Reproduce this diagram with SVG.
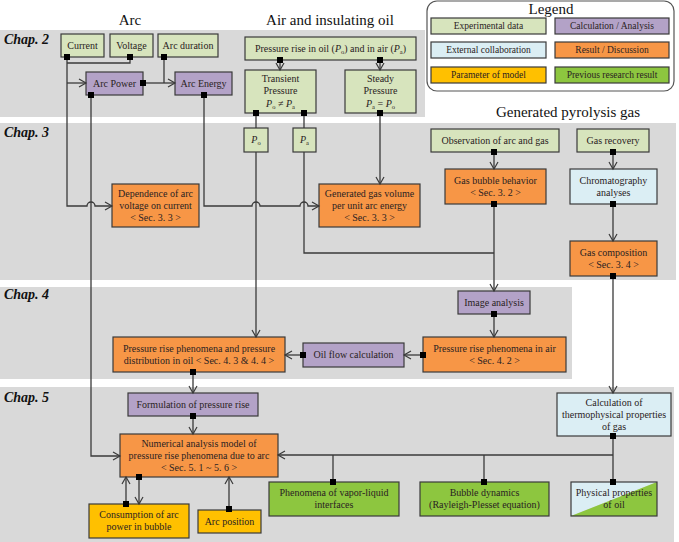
<svg xmlns="http://www.w3.org/2000/svg" width="679" height="542" viewBox="0 0 679 542" font-family="'Liberation Serif', 'DejaVu Serif', serif">
<style>
.band{fill:#d9d9d9}
.n{stroke:#3a3a3a;stroke-width:1.2}
.exp{fill:#d7e4bd}
.calc{fill:#b3a2c7}
.ext{fill:#dbeef4}
.res{fill:#f79646}
.par{fill:#ffc000}
.prev{fill:#8dc63f}
text{font-size:10px;fill:#2a2222;text-anchor:middle}
.hd{font-size:15px;fill:#111}
.ch{font-size:14px;font-weight:bold;font-style:italic;text-anchor:start;fill:#111}
.lg{font-size:9.5px}
.i{font-style:italic}
.c{fill:none;stroke:#3a3a3a;stroke-width:1.3}
</style>
<defs>
<marker id="arr" markerUnits="userSpaceOnUse" markerWidth="10" markerHeight="10" refX="8" refY="4" orient="auto" overflow="visible"><path d="M1,0 L8,4 L1,8" fill="none" stroke="#3a3a3a" stroke-width="1.2"/></marker>
<marker id="dot" markerUnits="userSpaceOnUse" markerWidth="6" markerHeight="6" refX="3" refY="3" overflow="visible"><rect width="6" height="6" fill="#000"/></marker>
</defs>

<rect class="band" x="0" y="30" width="425" height="87"/>
<rect class="band" x="0" y="123" width="676" height="157"/>
<rect class="band" x="0" y="287" width="572" height="92"/>
<rect class="band" x="0" y="387" width="674" height="155"/>

<text class="ch" x="4" y="44">Chap. 2</text>
<text class="ch" x="4" y="137">Chap. 3</text>
<text class="ch" x="4" y="299">Chap. 4</text>
<text class="ch" x="4" y="402">Chap. 5</text>

<text class="hd" x="130" y="25">Arc</text>
<text class="hd" x="330" y="25">Air and insulating oil</text>
<text class="hd" x="568" y="117">Generated pyrolysis gas</text>

<g id="legend">
<rect x="427" y="1" width="247" height="90" rx="10" fill="#fff" stroke="#555" stroke-width="1.2"/>
<text class="hd" x="551" y="14">Legend</text>
<rect class="n exp" x="431" y="18" width="115" height="16"/><text class="lg" x="488.5" y="29">Experimental data</text>
<rect class="n calc" x="555" y="18" width="114" height="16"/><text class="lg" x="612" y="29">Calculation / Analysis</text>
<rect class="n ext" x="431" y="42" width="115" height="16"/><text class="lg" x="488.5" y="53">External collaboration</text>
<rect class="n res" x="555" y="42" width="114" height="16"/><text class="lg" x="612" y="53">Result / Discussion</text>
<rect class="n par" x="431" y="67" width="115" height="16"/><text class="lg" x="488.5" y="78">Parameter of model</text>
<rect class="n prev" x="555" y="67" width="114" height="16"/><text class="lg" x="612" y="78">Previous research result</text>
</g>

<g id="current"><rect class="n exp" x="61" y="34" width="43" height="23"/><text x="82.5" y="49">Current</text></g>
<g id="voltage"><rect class="n exp" x="110" y="34" width="43" height="23"/><text x="131.5" y="49">Voltage</text></g>
<g id="arcduration"><rect class="n exp" x="158" y="34" width="60" height="23"/><text x="188" y="49">Arc duration</text></g>
<g id="arcpower"><rect class="n calc" x="86" y="72" width="57" height="23"/><text x="114.5" y="87">Arc Power</text></g>
<g id="arcenergy"><rect class="n calc" x="175" y="72" width="57" height="23"/><text x="203.5" y="87">Arc Energy</text></g>
<g id="pressurerise"><rect class="n exp" x="245" y="37" width="171" height="23"/><text x="330.5" y="52">Pressure rise in oil (<tspan class="i">P</tspan><tspan font-size="6.5" dy="2">o</tspan><tspan dy="-2">) and in air (</tspan><tspan class="i">P</tspan><tspan font-size="6.5" dy="2">a</tspan><tspan dy="-2">)</tspan></text></g>
<g id="transient"><rect class="n exp" x="245" y="70" width="71" height="43"/><text x="280.5" y="82">Transient</text><text x="280.5" y="94">Pressure</text><text x="280.5" y="107"><tspan class="i">P</tspan><tspan font-size="6.5" dy="2">o</tspan><tspan dy="-2"> ≠ </tspan><tspan class="i">P</tspan><tspan font-size="6.5" dy="2">a</tspan></text></g>
<g id="steady"><rect class="n exp" x="345" y="70" width="71" height="43"/><text x="380.5" y="82">Steady</text><text x="380.5" y="94">Pressure</text><text x="380.5" y="107"><tspan class="i">P</tspan><tspan font-size="6.5" dy="2">a</tspan><tspan dy="-2"> = </tspan><tspan class="i">P</tspan><tspan font-size="6.5" dy="2">o</tspan></text></g>
<g id="po"><rect class="n exp" x="244" y="128" width="24" height="24"/><text x="256" y="143"><tspan class="i">P</tspan><tspan font-size="6.5" dy="2">o</tspan></text></g>
<g id="pa"><rect class="n exp" x="293" y="128" width="23" height="24"/><text x="304.5" y="143"><tspan class="i">P</tspan><tspan font-size="6.5" dy="2">a</tspan></text></g>
<g id="dependence"><rect class="n res" x="112" y="184" width="87" height="43"/><text x="155.5" y="197">Dependence of arc</text><text x="155.5" y="209">voltage on current</text><text x="155.5" y="221">&lt; Sec. 3. 3 &gt;</text></g>
<g id="gasvolume"><rect class="n res" x="319" y="184" width="101" height="43"/><text x="369.5" y="197">Generated gas volume</text><text x="369.5" y="209">per unit arc energy</text><text x="369.5" y="221">&lt; Sec. 3. 3 &gt;</text></g>
<g id="observation"><rect class="n exp" x="431" y="129" width="128" height="23"/><text x="495" y="144">Observation of arc and gas</text></g>
<g id="gasrecovery"><rect class="n exp" x="577" y="129" width="72" height="23"/><text x="613" y="144">Gas recovery</text></g>
<g id="bubblebehavior"><rect class="n res" x="445" y="169" width="101" height="35"/><text x="495.5" y="184">Gas bubble behavior</text><text x="495.5" y="196">&lt; Sec. 3. 2 &gt;</text></g>
<g id="chromatography"><rect class="n ext" x="570" y="169" width="87" height="35"/><text x="613.5" y="184">Chromatography</text><text x="613.5" y="196">analyses</text></g>
<g id="gascomposition"><rect class="n res" x="570" y="241" width="87" height="35"/><text x="613.5" y="256">Gas composition</text><text x="613.5" y="268">&lt; Sec. 3. 4 &gt;</text></g>
<g id="imageanalysis"><rect class="n calc" x="458" y="291" width="72" height="23"/><text x="494" y="306">Image analysis</text></g>
<g id="pressureair"><rect class="n res" x="423" y="337" width="143" height="35"/><text x="494.5" y="352">Pressure rise phenomena in air</text><text x="494.5" y="364">&lt; Sec. 4. 2 &gt;</text></g>
<g id="oilflow"><rect class="n calc" x="303" y="343" width="101" height="24"/><text x="353.5" y="358">Oil flow calculation</text></g>
<g id="pressureoil"><rect class="n res" x="113" y="337" width="172" height="35"/><text x="199" y="352">Pressure rise phenomena and pressure</text><text x="199" y="364">distribution in oil &lt; Sec. 4. 3 &amp; 4. 4 &gt;</text></g>
<g id="formulation"><rect class="n calc" x="128" y="393" width="130" height="23"/><text x="193" y="408">Formulation of pressure rise</text></g>
<g id="numerical"><rect class="n res" x="120" y="434" width="158" height="43"/><text x="199" y="447">Numerical analysis model of</text><text x="199" y="459">pressure rise phenomena due to arc</text><text x="199" y="471">&lt; Sec. 5. 1 ~ 5. 6 &gt;</text></g>
<g id="consumption"><rect class="n par" x="89" y="504" width="100" height="34"/><text x="139" y="518">Consumption of arc</text><text x="139" y="530">power in bubble</text></g>
<g id="arcposition"><rect class="n par" x="198" y="510" width="63" height="23"/><text x="229.5" y="525">Arc position</text></g>
<g id="vaporliquid"><rect class="n prev" x="269" y="482" width="130" height="34"/><text x="334" y="496">Phenomena of vapor-liquid</text><text x="334" y="508">interfaces</text></g>
<g id="bubbledynamics"><rect class="n prev" x="420" y="482" width="129" height="34"/><text x="484.5" y="496">Bubble dynamics</text><text x="484.5" y="508">(Rayleigh-Plesset equation)</text></g>
<g id="physicaloil"><polygon points="571,482 657,482 571,516" class="ext"/><polygon points="657,482 657,516 571,516" class="prev"/><rect x="571" y="482" width="86" height="34" fill="none" class="n"/><text x="614" y="496">Physical properties</text><text x="614" y="508">of oil</text></g>
<g id="thermo"><rect class="n ext" x="557" y="393" width="114" height="43"/><text x="614" y="406">Calculation of</text><text x="614" y="418">thermophysical properties</text><text x="614" y="430">of gas</text></g>

<g id="connectors">
<path class="c" d="M130,57 V63 H67" marker-start="url(#dot)"/>
<path class="c" d="M67,57 V206 H87 A4,4 0 0 1 95,206 H112" marker-start="url(#dot)" marker-end="url(#arr)"/>
<path class="c" d="M67,83 H86" marker-end="url(#arr)"/>
<path class="c" d="M164,57 V83" marker-start="url(#dot)"/>
<path class="c" d="M143,83 H175" marker-start="url(#dot)" marker-end="url(#arr)"/>
<path class="c" d="M91,95 V456 H120" marker-start="url(#dot)" marker-end="url(#arr)"/>
<path class="c" d="M204,95 V206 H252 A4,4 0 0 1 260,206 H300 A4,4 0 0 1 308,206 H319" marker-start="url(#dot)" marker-end="url(#arr)"/>
<path class="c" d="M280,60 V70" marker-start="url(#dot)" marker-end="url(#arr)"/>
<path class="c" d="M380,60 V70" marker-start="url(#dot)" marker-end="url(#arr)"/>
<path class="c" d="M256,113 V128" marker-start="url(#dot)"/>
<path class="c" d="M304,113 V128" marker-start="url(#dot)"/>
<path class="c" d="M380,113 V184" marker-start="url(#dot)" marker-end="url(#arr)"/>
<path class="c" d="M256,152 V337" marker-end="url(#arr)"/>
<path class="c" d="M304,152 V253 H494"/>
<path class="c" d="M494,152 V169" marker-start="url(#dot)" marker-end="url(#arr)"/>
<path class="c" d="M494,204 V291" marker-start="url(#dot)" marker-end="url(#arr)"/>
<path class="c" d="M613,152 V169" marker-start="url(#dot)" marker-end="url(#arr)"/>
<path class="c" d="M613,204 V241" marker-start="url(#dot)" marker-end="url(#arr)"/>
<path class="c" d="M613,276 V393" marker-start="url(#dot)" marker-end="url(#arr)"/>
<path class="c" d="M494,314 V337" marker-start="url(#dot)" marker-end="url(#arr)"/>
<path class="c" d="M423,355 H404" marker-start="url(#dot)" marker-end="url(#arr)"/>
<path class="c" d="M303,355 H285" marker-start="url(#dot)" marker-end="url(#arr)"/>
<path class="c" d="M193,372 V393" marker-start="url(#dot)" marker-end="url(#arr)"/>
<path class="c" d="M193,416 V434" marker-start="url(#dot)" marker-end="url(#arr)"/>
<path class="c" d="M613,436 V482" marker-start="url(#dot)" marker-end="url(#dot)"/>
<path class="c" d="M613,455 H278" marker-end="url(#arr)"/>
<path class="c" d="M333,482 V455" marker-start="url(#dot)"/>
<path class="c" d="M484,482 V455" marker-start="url(#dot)"/>
<path class="c" d="M126,504 V477" marker-start="url(#dot)" marker-end="url(#arr)"/>
<path class="c" d="M139,477 V504" marker-start="url(#dot)" marker-end="url(#arr)"/>
<path class="c" d="M229,509 V477" marker-start="url(#dot)" marker-end="url(#arr)"/>
</g>
</svg>
